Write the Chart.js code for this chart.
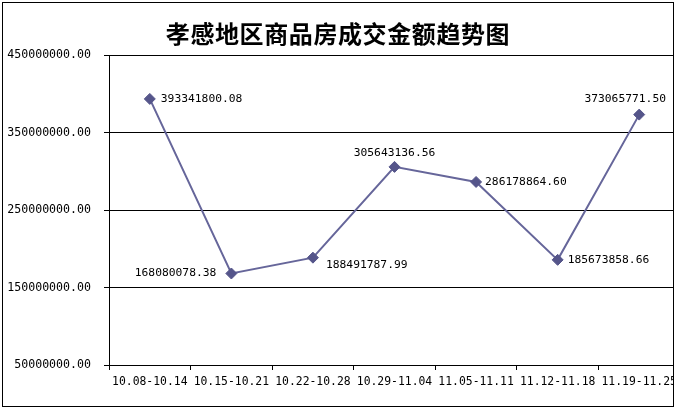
<!DOCTYPE html>
<html>
<head>
<meta charset="utf-8">
<script src="https://cdn.jsdelivr.net/npm/chart.js@4"></script>
<style>
  html, body { margin: 0; padding: 0; background: #fff; overflow: hidden; }
  #wrap { position: absolute; left: 0; top: 0; width: 700px; height: 409px; }
</style>
</head>
<body>
<div id="wrap"><canvas id="c" width="700" height="409"></canvas></div>
<script>
// Weekly periods
const weeks = ['10.08-10.14', '10.15-10.21', '10.22-10.28', '10.29-11.04', '11.05-11.11', '11.12-11.18', '11.19-11.25'];
// Transaction amount (yuan) per week
const amounts = [393341800.08, 168080078.38, 188491787.99, 305643136.56, 286178864.60, 185673858.66, 373065771.50];
// Value axis range and step
const yMin = 50000000;
const yMax = 450000000;
const yStep = 100000000;

const chartTitle = '孝感地区商品房成交金额趋势图';
const monoFont = "'DejaVu Sans Mono', 'Liberation Mono', monospace";

// where each value label sits relative to its marker
const labelPlacement = [
  { align: 'left', dx: 11, dy: 0 },
  { align: 'right', dx: -15, dy: 0 },
  { align: 'left', dx: 13, dy: 7 },
  { align: 'center', dx: 0, dy: -14 },
  { align: 'left', dx: 9, dy: 0 },
  { align: 'left', dx: 10, dy: 0 },
  { align: 'center', dx: -14, dy: -16 }
];

const fmt = v => v.toFixed(2);

const valueLabels = {
  id: 'valueLabels',
  afterDatasetsDraw(chart) {
    const ctx = chart.ctx;
    const meta = chart.getDatasetMeta(0);
    ctx.save();
    ctx.font = '11.3px ' + monoFont;
    ctx.fillStyle = '#000';
    ctx.textBaseline = 'middle';
    meta.data.forEach((pt, i) => {
      const p = labelPlacement[i];
      ctx.textAlign = p.align;
      ctx.fillText(fmt(amounts[i]), pt.x + p.dx, pt.y + p.dy);
    });
    ctx.restore();
  }
};

const frame = {
  id: 'frame',
  afterDraw(chart) {
    const ctx = chart.ctx;
    ctx.save();
    // everything right of and below the frame is blank
    ctx.fillStyle = '#fff';
    ctx.fillRect(674, 0, chart.width - 674, chart.height);
    ctx.fillRect(0, 407, chart.width, chart.height - 407);
    // title
    ctx.fillStyle = '#000';
    ctx.font = "bold 24px 'Noto Sans CJK SC', sans-serif";
    ctx.textAlign = 'center';
    ctx.textBaseline = 'middle';
    if ('letterSpacing' in ctx) ctx.letterSpacing = '0.6px';
    ctx.fillText(chartTitle, 338, 34);
    // outer frame
    ctx.strokeStyle = '#000';
    ctx.lineWidth = 1;
    ctx.strokeRect(2.5, 2.5, 671, 404);
    ctx.restore();
  }
};

new Chart(document.getElementById('c'), {
  type: 'line',
  data: {
    labels: weeks,
    datasets: [{
      data: amounts,
      borderColor: '#66669a',
      borderWidth: 2,
      pointStyle: 'rectRot',
      pointRadius: 5.5,
      pointBackgroundColor: '#55558a',
      pointBorderColor: '#55558a',
      pointBorderWidth: 1,
      tension: 0,
      fill: false
    }]
  },
  options: {
    responsive: false,
    animation: false,
    devicePixelRatio: 1,
    layout: { padding: { left: 0, right: 20, top: 55, bottom: 0 } },
    plugins: {
      legend: { display: false },
      title: { display: false },
      tooltip: { enabled: false }
    },
    scales: {
      x: {
        type: 'category',
        offset: true,
        grid: {
          offset: true,
          drawOnChartArea: false,
          drawTicks: true,
          tickLength: 5,
          color: '#000'
        },
        border: { display: true, color: '#000', width: 1 },
        ticks: {
          color: '#000',
          font: { family: monoFont, size: 11.4 },
          padding: 5,
          maxRotation: 0,
          autoSkip: false
        },
        afterFit(scale) { scale.height = 44; }
      },
      y: {
        min: yMin,
        max: yMax,
        grid: {
          color: '#000',
          lineWidth: 1,
          drawTicks: true,
          tickLength: 5
        },
        border: { display: true, color: '#000', width: 1 },
        ticks: {
          stepSize: yStep,
          color: '#000',
          font: { family: monoFont, size: 11.6 },
          padding: 13,
          callback: v => fmt(v)
        },
        afterFit(scale) { scale.width = 109; }
      }
    }
  },
  plugins: [valueLabels, frame]
});
</script>
</body>
</html>
